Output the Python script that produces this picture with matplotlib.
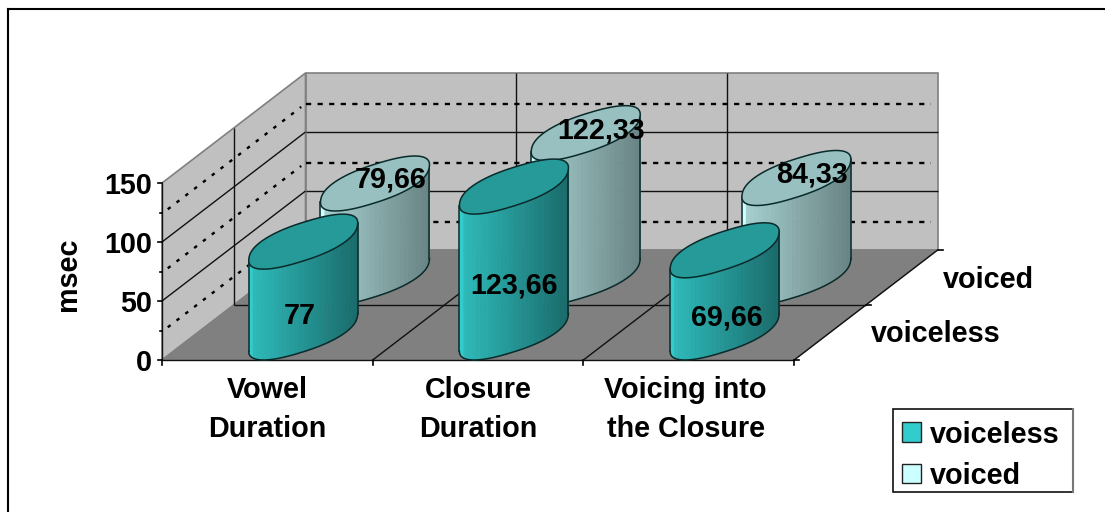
import numpy as np
import matplotlib
matplotlib.use("Agg")
import matplotlib.pyplot as plt
from matplotlib.patches import Polygon, Rectangle

plt.rcParams['font.family'] = ['Liberation Sans', 'DejaVu Sans']

categories = ['Vowel\nDuration', 'Closure\nDuration', 'Voicing into\nthe Closure']
series_names = ['voiceless', 'voiced']
voiceless_values = [77, 123.66, 69.66]
voiced_values = [79.66, 122.33, 84.33]
voiceless_labels = ['77', '123,66', '69,66']
voiced_labels = ['79,66', '122,33', '84,33']
y_ticks = [0, 50, 100, 150]
y_minor = [25, 75, 125]

# oblique projection: front-left floor corner, then pixels per category / depth / msec
ORIGIN = (162.0, 360.0)
CAT_W = 210.7
DEPTH_X, DEPTH_Y = 143.5, -110.0
PX_PER_MSEC = 1.18
FS = 20.7
# half extents of a column footprint on screen, and how boxy its outline is
HALF_X, HALF_Y = 54.5, 27.5
ROUNDNESS = 0.85


def project(cat, depth, val):
    x = ORIGIN[0] + cat * CAT_W + depth * DEPTH_X
    y = ORIGIN[1] + depth * DEPTH_Y - val * PX_PER_MSEC
    return x, y


def wall_line(ax, a, b, **kw):
    xa, ya = project(*a)
    xb, yb = project(*b)
    ax.plot([xa, xb], [ya, yb], solid_capstyle='butt', **kw)


def draw_walls(ax):
    n = len(categories)
    top = y_ticks[-1]
    floor = [project(0, 0, 0), project(n, 0, 0), project(n, 1, 0), project(0, 1, 0)]
    back = [project(0, 1, 0), project(n, 1, 0), project(n, 1, top), project(0, 1, top)]
    side = [project(0, 0, 0), project(0, 1, 0), project(0, 1, top), project(0, 0, top)]
    ax.add_patch(Polygon(back, fc='#c0c0c0', ec='#808080', lw=1.2, zorder=1))
    ax.add_patch(Polygon(side, fc='#c0c0c0', ec='#808080', lw=1.2, zorder=1))
    ax.add_patch(Polygon(floor, fc='#808080', ec='#808080', lw=1.0, zorder=1))

    # major gridlines
    line = dict(color='#111111', lw=1.0, zorder=2)
    for v in y_ticks[1:-1]:
        wall_line(ax, (0, 0, v), (0, 1, v), **line)
        wall_line(ax, (0, 1, v), (n, 1, v), **line)
    for c in range(1, n):
        wall_line(ax, (c, 0, 0), (c, 1, 0), **line)
        wall_line(ax, (c, 1, 0), (c, 1, top), **line)
    wall_line(ax, (0, 0.5, 0), (n, 0.5, 0), **line)
    wall_line(ax, (0, 0.5, 0), (0, 0.5, top), **line)
    wall_line(ax, (0, 0, 0), (0, 0, top), **line)
    wall_line(ax, (0, 0, 0), (n, 0, 0), **line)
    wall_line(ax, (n, 0, 0), (n, 1, 0), **line)

    # minor gridlines
    dots = dict(color='black', lw=1.7, zorder=2)
    for v in y_minor:
        xa, ya = project(0, 1, v - 1)
        xb, yb = project(n - 0.03, 1, v - 1)
        ax.plot([xa, xb], [ya, yb], dashes=(2.2, 2.7), **dots)
        xa, ya = project(0, 0.04, v - 1)
        xb, yb = project(0, 0.97, v - 1)
        ax.plot([xa, xb], [ya, yb], dashes=(1.5, 3.2), **dots)


def draw_ticks(ax):
    n = len(categories)
    tk = dict(color='black', lw=1.2, zorder=2)
    for v in y_ticks:
        x, y = project(0, 0, v)
        ax.plot([x - 4, x], [y, y], **tk)
        ax.text(x - 10, y, str(v), ha='right', va='center_baseline', fontsize=FS, fontweight='bold')
    for v in y_minor:
        x, y = project(0, 0, v)
        ax.plot([x - 2.5, x], [y, y], **tk)
    for c in range(n + 1):
        x, y = project(c, 0, 0)
        ax.plot([x, x], [y, y + 5], **tk)
    for d in (0, 0.5, 1):
        x, y = project(n, d, 0)
        ax.plot([x, x + 5], [y, y], **tk)


def footprint(cx, cy):
    # boxy ellipse along the slanted long and short axes, scaled to HALF_X / HALF_Y
    t = np.linspace(0, 2 * np.pi, 361)
    c = np.sign(np.cos(t)) * np.abs(np.cos(t)) ** ROUNDNESS
    s = np.sign(np.sin(t)) * np.abs(np.sin(t)) ** ROUNDNESS
    x = 50 * c - 3 * s
    y = -17 * c + 21 * s
    x = x * HALF_X / np.abs(x).max()
    y = y * HALF_Y / np.abs(y).max()
    return cx + x, cy + y


def draw_cylinder(ax, cat, depth, value, base_rgb, top_rgb, bright, z):
    cx, cy = project(cat, depth, 0)
    h = value * PX_PER_MSEC
    ex, ey = footprint(cx, cy)

    # lower half of the outline, walked from the leftmost to the rightmost point
    i_left, i_right = np.argmin(ex), np.argmax(ex)
    order = (np.arange(ex.size - 1) + i_right) % (ex.size - 1)
    k = np.where(order == i_left)[0][0]
    part_a = order[:k + 1]
    part_b = np.r_[order[k:], i_right]
    lower = part_a[::-1] if ey[part_a].mean() > ey[part_b].mean() else part_b
    lx, ly = ex[lower], ey[lower]

    # front of the cylinder as vertical strips, lit from the left
    edges = np.linspace(lx[0], lx[-1], 27)
    base_rgb = np.array(base_rgb)
    for i in range(len(edges) - 1):
        frac = i / (len(edges) - 2)
        shade = bright[0] + (bright[1] - bright[0]) * frac
        col = np.clip(base_rgb * shade, 0, 1)
        if i == 0:
            col = np.clip(base_rgb * bright[2], 0, 1)
        sx = np.linspace(edges[i], edges[i + 1] + 0.4, 5)
        sy = np.interp(sx, lx, ly)
        poly = np.r_[np.c_[sx, sy], np.c_[sx[::-1], sy[::-1] - h]]
        ax.add_patch(Polygon(poly, fc=col, ec=col, lw=0.2, zorder=z))

    # outline of the side, then the lid
    ink = '#0a2a2a'
    ax.plot(lx, ly, color=ink, lw=1.1, zorder=z + 0.1)
    ax.plot([lx[0], lx[0]], [ly[0], ly[0] - h], color=ink, lw=1.1, zorder=z + 0.1)
    ax.plot([lx[-1], lx[-1]], [ly[-1], ly[-1] - h], color=ink, lw=1.1, zorder=z + 0.1)
    ax.add_patch(Polygon(np.c_[ex, ey - h], fc=top_rgb, ec=ink, lw=1.1, zorder=z + 0.2))


def draw_legend(ax):
    ax.add_patch(Rectangle((892.5, 408.5), 180, 83.5, fc='white', ec='#111111', lw=1.2, zorder=6))
    ax.plot([1073, 1073], [409, 492], color='#777777', lw=1.5, zorder=6.1)
    swatches = ['#33cccc', '#ccffff']
    for name, col, y in zip(series_names, swatches, (432, 473.5)):
        ax.add_patch(Rectangle((902, y - 10), 19, 19.5, fc=col, ec='#222222', lw=1.0, zorder=7))
        ax.text(930, y, name, ha='left', va='center_baseline', fontsize=FS, fontweight='bold', zorder=7)


fig = plt.figure(figsize=(11.05, 5.12), dpi=100)
ax = fig.add_axes([0, 0, 1, 1])
ax.set_xlim(0, 1105)
ax.set_ylim(512, 0)
ax.axis('off')

# chart area frame, running off the right and bottom edges
ax.plot([8, 8], [9, 530], color='black', lw=1.5, zorder=0)
ax.plot([8, 1120], [9, 9], color='black', lw=1.5, zorder=0)

draw_walls(ax)
draw_ticks(ax)

teal = (0.2, 0.8, 0.8)
pale = (0.8, 1.0, 1.0)
for i, v in enumerate(voiced_values):
    draw_cylinder(ax, i + 0.5, 0.75, v, pale, '#99c0c0', (0.82, 0.52, 1.0), 3 + i * 0.01)
for i, v in enumerate(voiceless_values):
    draw_cylinder(ax, i + 0.5, 0.25, v, teal, '#269999', (0.92, 0.53, 1.0), 4 + i * 0.01)

# value labels sit where the chart placed them, relative to each column's base
for i, (txt, dx, dy) in enumerate(zip(voiceless_labels, (-3, 0, 2), (-19, -50, -18))):
    x, y = project(i + 0.5, 0.25, 0)
    ax.text(x + dx, y + dy, txt, ha='center', va='center_baseline', fontsize=FS, fontweight='bold', zorder=5)
for i, (txt, dx, dy) in enumerate(zip(voiced_labels, (16, 15, 16), (-101, -150, -106))):
    x, y = project(i + 0.5, 0.75, 0)
    ax.text(x + dx, y + dy, txt, ha='center', va='center_baseline', fontsize=FS, fontweight='bold', zorder=5)

for i, cat in enumerate(categories):
    x, y = project(i + 0.5, 0, 0)
    ax.text(x - (3 if i == 2 else 0), y + 49.5, cat, ha='center', va='center', fontsize=FS,
            fontweight='bold', linespacing=1.52)

ax.text(68, 274, 'msec', rotation=90, ha='center', va='center', fontsize=FS, fontweight='bold')
ax.text(988, 280, 'voiced', ha='center', va='center', fontsize=FS, fontweight='bold')
ax.text(935.5, 334, 'voiceless', ha='center', va='center', fontsize=FS, fontweight='bold')

draw_legend(ax)

fig.savefig('out.png', dpi=100)
